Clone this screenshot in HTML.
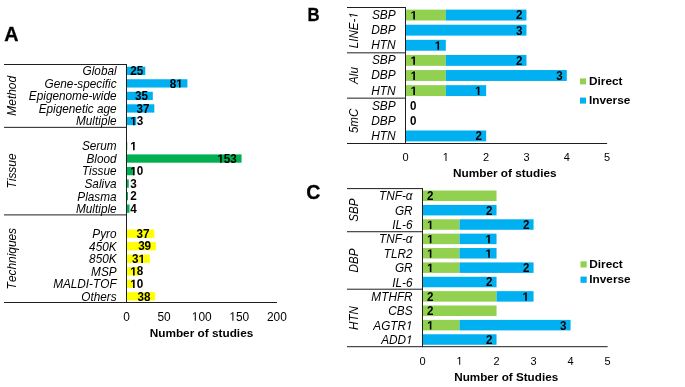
<!DOCTYPE html>
<html><head><meta charset="utf-8"><style>
html,body{margin:0;padding:0;background:#fff;}
svg{display:block;font-family:"Liberation Sans", sans-serif;will-change:transform;}
text{fill:#000;font-kerning:none;}
path{fill:#000;}
</style></head><body>
<svg width="685" height="387" viewBox="0 0 685 387">
<text x="4.30" y="41.50" font-size="19.8" text-anchor="start" font-weight="bold" font-style="normal" transform="translate(4.30 41.50) scale(1 1.04) translate(-4.30 -41.50)" stroke="#000" stroke-width="0.3">A</text>
<rect x="126.50" y="66.71" width="18.80" height="8.30" fill="#00b0f0"/>
<text x="116.60" y="75.26" font-size="11.8" text-anchor="end" font-weight="normal" font-style="italic" transform="translate(116.60 75.26) scale(1 1.04) translate(-116.60 -75.26)">Global</text>
<text x="130.30" y="75.06" font-size="11.7" text-anchor="start" font-weight="bold" font-style="normal" transform="translate(130.30 75.06) scale(1 1.02) translate(-130.30 -75.06)">25</text>
<rect x="126.50" y="79.24" width="60.91" height="8.30" fill="#00b0f0"/>
<text x="116.60" y="87.79" font-size="11.8" text-anchor="end" font-weight="normal" font-style="italic" transform="translate(116.60 87.79) scale(1 1.04) translate(-116.60 -87.79)">Gene-specific</text>
<text id="t0" x="182.71" y="87.59" font-size="11.7" text-anchor="end" font-weight="bold" font-style="normal" transform="translate(182.71 87.59) scale(1 1.02) translate(-182.71 -87.59)">8 </text>
<rect x="126.50" y="91.77" width="26.32" height="8.30" fill="#00b0f0"/>
<text x="116.60" y="100.32" font-size="11.8" text-anchor="end" font-weight="normal" font-style="italic" transform="translate(116.60 100.32) scale(1 1.04) translate(-116.60 -100.32)">Epigenome-wide</text>
<text x="148.12" y="100.12" font-size="11.7" text-anchor="end" font-weight="bold" font-style="normal" transform="translate(148.12 100.12) scale(1 1.02) translate(-148.12 -100.12)">35</text>
<rect x="126.50" y="104.29" width="27.82" height="8.30" fill="#00b0f0"/>
<text x="116.60" y="112.84" font-size="11.8" text-anchor="end" font-weight="normal" font-style="italic" transform="translate(116.60 112.84) scale(1 1.04) translate(-116.60 -112.84)">Epigenetic age</text>
<text x="149.62" y="112.64" font-size="11.7" text-anchor="end" font-weight="bold" font-style="normal" transform="translate(149.62 112.64) scale(1 1.02) translate(-149.62 -112.64)">37</text>
<rect x="126.50" y="116.82" width="9.78" height="8.30" fill="#00b0f0"/>
<text x="116.60" y="125.37" font-size="11.8" text-anchor="end" font-weight="normal" font-style="italic" transform="translate(116.60 125.37) scale(1 1.04) translate(-116.60 -125.37)">Multiple</text>
<text id="t1" x="130.30" y="125.17" font-size="11.7" text-anchor="start" font-weight="bold" font-style="normal" transform="translate(130.30 125.17) scale(1 1.02) translate(-130.30 -125.17)"> 3</text>
<rect x="126.50" y="141.87" width="0.75" height="8.30" fill="#00b050"/>
<text x="116.60" y="150.42" font-size="11.8" text-anchor="end" font-weight="normal" font-style="italic" transform="translate(116.60 150.42) scale(1 1.04) translate(-116.60 -150.42)">Serum</text>
<text id="t2" x="130.30" y="150.22" font-size="11.7" text-anchor="start" font-weight="bold" font-style="normal" transform="translate(130.30 150.22) scale(1 1.02) translate(-130.30 -150.22)"> </text>
<rect x="126.50" y="154.40" width="115.06" height="8.30" fill="#00b050"/>
<text x="116.60" y="162.95" font-size="11.8" text-anchor="end" font-weight="normal" font-style="italic" transform="translate(116.60 162.95) scale(1 1.04) translate(-116.60 -162.95)">Blood</text>
<text id="t3" x="236.86" y="162.75" font-size="11.7" text-anchor="end" font-weight="bold" font-style="normal" transform="translate(236.86 162.75) scale(1 1.02) translate(-236.86 -162.75)"> 53</text>
<rect x="126.50" y="166.92" width="7.52" height="8.30" fill="#00b050"/>
<text x="116.60" y="175.47" font-size="11.8" text-anchor="end" font-weight="normal" font-style="italic" transform="translate(116.60 175.47) scale(1 1.04) translate(-116.60 -175.47)">Tissue</text>
<text id="t4" x="130.30" y="175.27" font-size="11.7" text-anchor="start" font-weight="bold" font-style="normal" transform="translate(130.30 175.27) scale(1 1.02) translate(-130.30 -175.27)"> 0</text>
<rect x="126.50" y="179.45" width="2.26" height="8.30" fill="#00b050"/>
<text x="116.60" y="188.00" font-size="11.8" text-anchor="end" font-weight="normal" font-style="italic" transform="translate(116.60 188.00) scale(1 1.04) translate(-116.60 -188.00)">Saliva</text>
<text x="130.30" y="187.80" font-size="11.7" text-anchor="start" font-weight="bold" font-style="normal" transform="translate(130.30 187.80) scale(1 1.02) translate(-130.30 -187.80)">3</text>
<rect x="126.50" y="191.98" width="1.50" height="8.30" fill="#00b050"/>
<text x="116.60" y="200.53" font-size="11.8" text-anchor="end" font-weight="normal" font-style="italic" transform="translate(116.60 200.53) scale(1 1.04) translate(-116.60 -200.53)">Plasma</text>
<text x="130.30" y="200.33" font-size="11.7" text-anchor="start" font-weight="bold" font-style="normal" transform="translate(130.30 200.33) scale(1 1.02) translate(-130.30 -200.33)">2</text>
<rect x="126.50" y="204.50" width="3.01" height="8.30" fill="#00b050"/>
<text x="116.60" y="213.05" font-size="11.8" text-anchor="end" font-weight="normal" font-style="italic" transform="translate(116.60 213.05) scale(1 1.04) translate(-116.60 -213.05)">Multiple</text>
<text x="130.30" y="212.85" font-size="11.7" text-anchor="start" font-weight="bold" font-style="normal" transform="translate(130.30 212.85) scale(1 1.02) translate(-130.30 -212.85)">4</text>
<rect x="126.50" y="229.56" width="27.82" height="8.30" fill="#ffff00"/>
<text x="116.60" y="238.11" font-size="11.8" text-anchor="end" font-weight="normal" font-style="italic" transform="translate(116.60 238.11) scale(1 1.04) translate(-116.60 -238.11)">Pyro</text>
<text x="149.62" y="237.91" font-size="11.7" text-anchor="end" font-weight="bold" font-style="normal" transform="translate(149.62 237.91) scale(1 1.02) translate(-149.62 -237.91)">37</text>
<rect x="126.50" y="242.08" width="29.33" height="8.30" fill="#ffff00"/>
<text x="116.60" y="250.63" font-size="11.8" text-anchor="end" font-weight="normal" font-style="italic" transform="translate(116.60 250.63) scale(1 1.04) translate(-116.60 -250.63)">450K</text>
<text x="151.13" y="250.43" font-size="11.7" text-anchor="end" font-weight="bold" font-style="normal" transform="translate(151.13 250.43) scale(1 1.02) translate(-151.13 -250.43)">39</text>
<rect x="126.50" y="254.61" width="23.31" height="8.30" fill="#ffff00"/>
<text x="116.60" y="263.16" font-size="11.8" text-anchor="end" font-weight="normal" font-style="italic" transform="translate(116.60 263.16) scale(1 1.04) translate(-116.60 -263.16)">850K</text>
<text id="t5" x="145.11" y="262.96" font-size="11.7" text-anchor="end" font-weight="bold" font-style="normal" transform="translate(145.11 262.96) scale(1 1.02) translate(-145.11 -262.96)">3 </text>
<rect x="126.50" y="267.13" width="13.54" height="8.30" fill="#ffff00"/>
<text x="116.60" y="275.68" font-size="11.8" text-anchor="end" font-weight="normal" font-style="italic" transform="translate(116.60 275.68) scale(1 1.04) translate(-116.60 -275.68)">MSP</text>
<text id="t6" x="130.30" y="275.48" font-size="11.7" text-anchor="start" font-weight="bold" font-style="normal" transform="translate(130.30 275.48) scale(1 1.02) translate(-130.30 -275.48)"> 8</text>
<rect x="126.50" y="279.66" width="7.52" height="8.30" fill="#ffff00"/>
<text x="116.60" y="288.21" font-size="11.8" text-anchor="end" font-weight="normal" font-style="italic" transform="translate(116.60 288.21) scale(1 1.04) translate(-116.60 -288.21)">MALDI-TOF</text>
<text id="t7" x="130.30" y="288.01" font-size="11.7" text-anchor="start" font-weight="bold" font-style="normal" transform="translate(130.30 288.01) scale(1 1.02) translate(-130.30 -288.01)"> 0</text>
<rect x="126.50" y="292.19" width="28.58" height="8.30" fill="#ffff00"/>
<text x="116.60" y="300.74" font-size="11.8" text-anchor="end" font-weight="normal" font-style="italic" transform="translate(116.60 300.74) scale(1 1.04) translate(-116.60 -300.74)">Others</text>
<text x="150.38" y="300.54" font-size="11.7" text-anchor="end" font-weight="bold" font-style="normal" transform="translate(150.38 300.54) scale(1 1.02) translate(-150.38 -300.54)">38</text>
<text x="16.20" y="95.82" font-size="11.9" text-anchor="middle" font-weight="normal" font-style="italic" transform="rotate(-90 16.20 95.82) translate(16.20 95.82) scale(1 1.04) translate(-16.20 -95.82)">Method</text>
<text x="16.20" y="170.97" font-size="11.9" text-anchor="middle" font-weight="normal" font-style="italic" transform="rotate(-90 16.20 170.97) translate(16.20 170.97) scale(1 1.04) translate(-16.20 -170.97)">Tissue</text>
<text x="16.20" y="258.66" font-size="11.9" text-anchor="middle" font-weight="normal" font-style="italic" transform="rotate(-90 16.20 258.66) translate(16.20 258.66) scale(1 1.04) translate(-16.20 -258.66)">Techniques</text>
<line x1="4.00" y1="64.50" x2="126.50" y2="64.50" stroke="#1e1e1e" stroke-width="1.0"/>
<line x1="4.00" y1="127.35" x2="126.50" y2="127.35" stroke="#1e1e1e" stroke-width="1.0"/>
<line x1="4.00" y1="214.90" x2="126.50" y2="214.90" stroke="#1e1e1e" stroke-width="1.0"/>
<line x1="4.00" y1="302.50" x2="277.00" y2="302.50" stroke="#1e1e1e" stroke-width="1.0"/>
<line x1="126.50" y1="64.00" x2="126.50" y2="303.00" stroke="#1e1e1e" stroke-width="1.0"/>
<text x="126.50" y="320.80" font-size="11.9" text-anchor="middle" font-weight="normal" font-style="normal" transform="translate(126.50 320.80) scale(1 1.04) translate(-126.50 -320.80)">0</text>
<text x="164.10" y="320.80" font-size="11.9" text-anchor="middle" font-weight="normal" font-style="normal" transform="translate(164.10 320.80) scale(1 1.04) translate(-164.10 -320.80)">50</text>
<text id="t8" x="201.70" y="320.80" font-size="11.9" text-anchor="middle" font-weight="normal" font-style="normal" transform="translate(201.70 320.80) scale(1 1.04) translate(-201.70 -320.80)"> 00</text>
<text id="t9" x="239.30" y="320.80" font-size="11.9" text-anchor="middle" font-weight="normal" font-style="normal" transform="translate(239.30 320.80) scale(1 1.04) translate(-239.30 -320.80)"> 50</text>
<text x="276.90" y="320.80" font-size="11.9" text-anchor="middle" font-weight="normal" font-style="normal" transform="translate(276.90 320.80) scale(1 1.04) translate(-276.90 -320.80)">200</text>
<text x="201.50" y="337.00" font-size="11.8" text-anchor="middle" font-weight="bold" font-style="normal">Number of studies</text>
<g transform="translate(307.5 0) scale(0.93 1)">
<text x="0.00" y="21.00" font-size="18" text-anchor="start" font-weight="bold" font-style="normal" transform="translate(0.00 21.00) scale(1 1.04) translate(0.00 -21.00)" stroke="#000" stroke-width="0.3">B</text>
</g>
<rect x="405.50" y="9.61" width="40.32" height="10.90" fill="#92d050"/>
<text id="t10" x="410.60" y="19.46" font-size="11.6" text-anchor="start" font-weight="bold" font-style="normal" transform="translate(410.60 19.46) scale(1 1.04) translate(-410.60 -19.46)"> </text>
<rect x="445.82" y="9.61" width="80.64" height="10.90" fill="#00b0f0"/>
<text x="522.36" y="19.46" font-size="11.6" text-anchor="end" font-weight="bold" font-style="normal" transform="translate(522.36 19.46) scale(1 1.04) translate(-522.36 -19.46)">2</text>
<text x="395.70" y="19.06" font-size="11.9" text-anchor="end" font-weight="normal" font-style="italic" transform="translate(395.70 19.06) scale(1 1.04) translate(-395.70 -19.06)">SBP</text>
<rect x="405.50" y="24.72" width="120.96" height="10.90" fill="#00b0f0"/>
<text x="522.36" y="34.57" font-size="11.6" text-anchor="end" font-weight="bold" font-style="normal" transform="translate(522.36 34.57) scale(1 1.04) translate(-522.36 -34.57)">3</text>
<text x="395.70" y="34.17" font-size="11.9" text-anchor="end" font-weight="normal" font-style="italic" transform="translate(395.70 34.17) scale(1 1.04) translate(-395.70 -34.17)">DBP</text>
<rect x="405.50" y="39.83" width="40.32" height="10.90" fill="#00b0f0"/>
<text id="t11" x="441.22" y="49.68" font-size="11.6" text-anchor="end" font-weight="bold" font-style="normal" transform="translate(441.22 49.68) scale(1 1.04) translate(-441.22 -49.68)"> </text>
<text x="395.70" y="49.28" font-size="11.9" text-anchor="end" font-weight="normal" font-style="italic" transform="translate(395.70 49.28) scale(1 1.04) translate(-395.70 -49.28)">HTN</text>
<rect x="405.50" y="54.94" width="40.32" height="10.90" fill="#92d050"/>
<text id="t12" x="410.60" y="64.79" font-size="11.6" text-anchor="start" font-weight="bold" font-style="normal" transform="translate(410.60 64.79) scale(1 1.04) translate(-410.60 -64.79)"> </text>
<rect x="445.82" y="54.94" width="80.64" height="10.90" fill="#00b0f0"/>
<text x="522.36" y="64.79" font-size="11.6" text-anchor="end" font-weight="bold" font-style="normal" transform="translate(522.36 64.79) scale(1 1.04) translate(-522.36 -64.79)">2</text>
<text x="395.70" y="64.39" font-size="11.9" text-anchor="end" font-weight="normal" font-style="italic" transform="translate(395.70 64.39) scale(1 1.04) translate(-395.70 -64.39)">SBP</text>
<rect x="405.50" y="70.05" width="40.32" height="10.90" fill="#92d050"/>
<text id="t13" x="410.60" y="79.90" font-size="11.6" text-anchor="start" font-weight="bold" font-style="normal" transform="translate(410.60 79.90) scale(1 1.04) translate(-410.60 -79.90)"> </text>
<rect x="445.82" y="70.05" width="120.96" height="10.90" fill="#00b0f0"/>
<text x="562.68" y="79.90" font-size="11.6" text-anchor="end" font-weight="bold" font-style="normal" transform="translate(562.68 79.90) scale(1 1.04) translate(-562.68 -79.90)">3</text>
<text x="395.70" y="79.50" font-size="11.9" text-anchor="end" font-weight="normal" font-style="italic" transform="translate(395.70 79.50) scale(1 1.04) translate(-395.70 -79.50)">DBP</text>
<rect x="405.50" y="85.16" width="40.32" height="10.90" fill="#92d050"/>
<text id="t14" x="410.60" y="95.01" font-size="11.6" text-anchor="start" font-weight="bold" font-style="normal" transform="translate(410.60 95.01) scale(1 1.04) translate(-410.60 -95.01)"> </text>
<rect x="445.82" y="85.16" width="40.32" height="10.90" fill="#00b0f0"/>
<text id="t15" x="481.54" y="95.01" font-size="11.6" text-anchor="end" font-weight="bold" font-style="normal" transform="translate(481.54 95.01) scale(1 1.04) translate(-481.54 -95.01)"> </text>
<text x="395.70" y="94.61" font-size="11.9" text-anchor="end" font-weight="normal" font-style="italic" transform="translate(395.70 94.61) scale(1 1.04) translate(-395.70 -94.61)">HTN</text>
<text x="410.10" y="110.12" font-size="11.6" text-anchor="start" font-weight="bold" font-style="normal" transform="translate(410.10 110.12) scale(1 1.04) translate(-410.10 -110.12)">0</text>
<text x="395.70" y="109.72" font-size="11.9" text-anchor="end" font-weight="normal" font-style="italic" transform="translate(395.70 109.72) scale(1 1.04) translate(-395.70 -109.72)">SBP</text>
<text x="410.10" y="125.23" font-size="11.6" text-anchor="start" font-weight="bold" font-style="normal" transform="translate(410.10 125.23) scale(1 1.04) translate(-410.10 -125.23)">0</text>
<text x="395.70" y="124.83" font-size="11.9" text-anchor="end" font-weight="normal" font-style="italic" transform="translate(395.70 124.83) scale(1 1.04) translate(-395.70 -124.83)">DBP</text>
<rect x="405.50" y="130.49" width="80.64" height="10.90" fill="#00b0f0"/>
<text x="482.04" y="140.34" font-size="11.6" text-anchor="end" font-weight="bold" font-style="normal" transform="translate(482.04 140.34) scale(1 1.04) translate(-482.04 -140.34)">2</text>
<text x="395.70" y="139.94" font-size="11.9" text-anchor="end" font-weight="normal" font-style="italic" transform="translate(395.70 139.94) scale(1 1.04) translate(-395.70 -139.94)">HTN</text>
<text id="t16" x="357.60" y="30.17" font-size="11.6" text-anchor="middle" font-weight="normal" font-style="italic" transform="rotate(-90 357.60 30.17) translate(357.60 30.17) scale(1 1.04) translate(-357.60 -30.17)">LINE- </text>
<text x="357.60" y="75.50" font-size="11.6" text-anchor="middle" font-weight="normal" font-style="italic" transform="rotate(-90 357.60 75.50) translate(357.60 75.50) scale(1 1.04) translate(-357.60 -75.50)">Alu</text>
<text x="357.60" y="120.83" font-size="11.6" text-anchor="middle" font-weight="normal" font-style="italic" transform="rotate(-90 357.60 120.83) translate(357.60 120.83) scale(1 1.04) translate(-357.60 -120.83)">5mC</text>
<line x1="347.00" y1="7.50" x2="405.50" y2="7.50" stroke="#1e1e1e" stroke-width="1.0"/>
<line x1="347.00" y1="52.83" x2="405.50" y2="52.83" stroke="#1e1e1e" stroke-width="1.0"/>
<line x1="347.00" y1="98.17" x2="405.50" y2="98.17" stroke="#1e1e1e" stroke-width="1.0"/>
<line x1="347.00" y1="143.50" x2="607.10" y2="143.50" stroke="#1e1e1e" stroke-width="1.0"/>
<line x1="405.50" y1="7.00" x2="405.50" y2="144.00" stroke="#1e1e1e" stroke-width="1.0"/>
<text x="405.50" y="160.90" font-size="11" text-anchor="middle" font-weight="normal" font-style="normal" transform="translate(405.50 160.90) scale(1 1.04) translate(-405.50 -160.90)">0</text>
<text id="t17" x="445.82" y="160.90" font-size="11" text-anchor="middle" font-weight="normal" font-style="normal" transform="translate(445.82 160.90) scale(1 1.04) translate(-445.82 -160.90)"> </text>
<text x="486.14" y="160.90" font-size="11" text-anchor="middle" font-weight="normal" font-style="normal" transform="translate(486.14 160.90) scale(1 1.04) translate(-486.14 -160.90)">2</text>
<text x="526.46" y="160.90" font-size="11" text-anchor="middle" font-weight="normal" font-style="normal" transform="translate(526.46 160.90) scale(1 1.04) translate(-526.46 -160.90)">3</text>
<text x="566.78" y="160.90" font-size="11" text-anchor="middle" font-weight="normal" font-style="normal" transform="translate(566.78 160.90) scale(1 1.04) translate(-566.78 -160.90)">4</text>
<text x="607.10" y="160.90" font-size="11" text-anchor="middle" font-weight="normal" font-style="normal" transform="translate(607.10 160.90) scale(1 1.04) translate(-607.10 -160.90)">5</text>
<text x="504.80" y="177.00" font-size="11.8" text-anchor="middle" font-weight="bold" font-style="normal">Number of studies</text>
<rect x="580.00" y="78.40" width="6.00" height="6.00" fill="#92d050"/>
<text x="589.00" y="84.90" font-size="11.8" text-anchor="start" font-weight="bold" font-style="normal">Direct</text>
<rect x="580.00" y="97.60" width="6.00" height="6.00" fill="#00b0f0"/>
<text x="589.00" y="103.60" font-size="11.8" text-anchor="start" font-weight="bold" font-style="normal">Inverse</text>
<text x="306.20" y="199.00" font-size="19.6" text-anchor="start" font-weight="bold" font-style="normal" transform="translate(306.20 199.00) scale(1 1.04) translate(-306.20 -199.00)" stroke="#000" stroke-width="0.3">C</text>
<rect x="422.50" y="190.54" width="74.04" height="10.50" fill="#92d050"/>
<text x="427.10" y="200.19" font-size="11.6" text-anchor="start" font-weight="bold" font-style="normal" transform="translate(427.10 200.19) scale(1 1.04) translate(-427.10 -200.19)">2</text>
<text x="412.60" y="200.29" font-size="11.8" text-anchor="end" font-weight="normal" font-style="italic" transform="translate(412.60 200.29) scale(1 1.04) translate(-412.60 -200.29)">TNF-α</text>
<rect x="422.50" y="204.91" width="74.04" height="10.50" fill="#00b0f0"/>
<text x="492.44" y="214.56" font-size="11.6" text-anchor="end" font-weight="bold" font-style="normal" transform="translate(492.44 214.56) scale(1 1.04) translate(-492.44 -214.56)">2</text>
<text x="412.60" y="214.66" font-size="11.8" text-anchor="end" font-weight="normal" font-style="italic" transform="translate(412.60 214.66) scale(1 1.04) translate(-412.60 -214.66)">GR</text>
<rect x="422.50" y="219.28" width="37.02" height="10.50" fill="#92d050"/>
<text id="t18" x="427.10" y="228.93" font-size="11.6" text-anchor="start" font-weight="bold" font-style="normal" transform="translate(427.10 228.93) scale(1 1.04) translate(-427.10 -228.93)"> </text>
<rect x="459.52" y="219.28" width="74.04" height="10.50" fill="#00b0f0"/>
<text x="529.46" y="228.93" font-size="11.6" text-anchor="end" font-weight="bold" font-style="normal" transform="translate(529.46 228.93) scale(1 1.04) translate(-529.46 -228.93)">2</text>
<text x="412.60" y="229.03" font-size="11.8" text-anchor="end" font-weight="normal" font-style="italic" transform="translate(412.60 229.03) scale(1 1.04) translate(-412.60 -229.03)">IL-6</text>
<rect x="422.50" y="233.65" width="37.02" height="10.50" fill="#92d050"/>
<text id="t19" x="427.10" y="243.30" font-size="11.6" text-anchor="start" font-weight="bold" font-style="normal" transform="translate(427.10 243.30) scale(1 1.04) translate(-427.10 -243.30)"> </text>
<rect x="459.52" y="233.65" width="37.02" height="10.50" fill="#00b0f0"/>
<text id="t20" x="491.94" y="243.30" font-size="11.6" text-anchor="end" font-weight="bold" font-style="normal" transform="translate(491.94 243.30) scale(1 1.04) translate(-491.94 -243.30)"> </text>
<text x="412.60" y="243.40" font-size="11.8" text-anchor="end" font-weight="normal" font-style="italic" transform="translate(412.60 243.40) scale(1 1.04) translate(-412.60 -243.40)">TNF-α</text>
<rect x="422.50" y="248.03" width="37.02" height="10.50" fill="#92d050"/>
<text id="t21" x="427.10" y="257.68" font-size="11.6" text-anchor="start" font-weight="bold" font-style="normal" transform="translate(427.10 257.68) scale(1 1.04) translate(-427.10 -257.68)"> </text>
<rect x="459.52" y="248.03" width="37.02" height="10.50" fill="#00b0f0"/>
<text id="t22" x="491.94" y="257.68" font-size="11.6" text-anchor="end" font-weight="bold" font-style="normal" transform="translate(491.94 257.68) scale(1 1.04) translate(-491.94 -257.68)"> </text>
<text x="412.60" y="257.78" font-size="11.8" text-anchor="end" font-weight="normal" font-style="italic" transform="translate(412.60 257.78) scale(1 1.04) translate(-412.60 -257.78)">TLR2</text>
<rect x="422.50" y="262.40" width="37.02" height="10.50" fill="#92d050"/>
<text id="t23" x="427.10" y="272.05" font-size="11.6" text-anchor="start" font-weight="bold" font-style="normal" transform="translate(427.10 272.05) scale(1 1.04) translate(-427.10 -272.05)"> </text>
<rect x="459.52" y="262.40" width="74.04" height="10.50" fill="#00b0f0"/>
<text x="529.46" y="272.05" font-size="11.6" text-anchor="end" font-weight="bold" font-style="normal" transform="translate(529.46 272.05) scale(1 1.04) translate(-529.46 -272.05)">2</text>
<text x="412.60" y="272.15" font-size="11.8" text-anchor="end" font-weight="normal" font-style="italic" transform="translate(412.60 272.15) scale(1 1.04) translate(-412.60 -272.15)">GR</text>
<rect x="422.50" y="276.77" width="74.04" height="10.50" fill="#00b0f0"/>
<text x="492.44" y="286.42" font-size="11.6" text-anchor="end" font-weight="bold" font-style="normal" transform="translate(492.44 286.42) scale(1 1.04) translate(-492.44 -286.42)">2</text>
<text x="412.60" y="286.52" font-size="11.8" text-anchor="end" font-weight="normal" font-style="italic" transform="translate(412.60 286.52) scale(1 1.04) translate(-412.60 -286.52)">IL-6</text>
<rect x="422.50" y="291.15" width="74.04" height="10.50" fill="#92d050"/>
<text x="427.10" y="300.80" font-size="11.6" text-anchor="start" font-weight="bold" font-style="normal" transform="translate(427.10 300.80) scale(1 1.04) translate(-427.10 -300.80)">2</text>
<rect x="496.54" y="291.15" width="37.02" height="10.50" fill="#00b0f0"/>
<text id="t24" x="528.96" y="300.80" font-size="11.6" text-anchor="end" font-weight="bold" font-style="normal" transform="translate(528.96 300.80) scale(1 1.04) translate(-528.96 -300.80)"> </text>
<text x="412.60" y="300.90" font-size="11.8" text-anchor="end" font-weight="normal" font-style="italic" transform="translate(412.60 300.90) scale(1 1.04) translate(-412.60 -300.90)">MTHFR</text>
<rect x="422.50" y="305.52" width="74.04" height="10.50" fill="#92d050"/>
<text x="427.10" y="315.17" font-size="11.6" text-anchor="start" font-weight="bold" font-style="normal" transform="translate(427.10 315.17) scale(1 1.04) translate(-427.10 -315.17)">2</text>
<text x="412.60" y="315.27" font-size="11.8" text-anchor="end" font-weight="normal" font-style="italic" transform="translate(412.60 315.27) scale(1 1.04) translate(-412.60 -315.27)">CBS</text>
<rect x="422.50" y="319.89" width="37.02" height="10.50" fill="#92d050"/>
<text id="t25" x="427.10" y="329.54" font-size="11.6" text-anchor="start" font-weight="bold" font-style="normal" transform="translate(427.10 329.54) scale(1 1.04) translate(-427.10 -329.54)"> </text>
<rect x="459.52" y="319.89" width="111.06" height="10.50" fill="#00b0f0"/>
<text x="566.48" y="329.54" font-size="11.6" text-anchor="end" font-weight="bold" font-style="normal" transform="translate(566.48 329.54) scale(1 1.04) translate(-566.48 -329.54)">3</text>
<text id="t26" x="412.60" y="329.64" font-size="11.8" text-anchor="end" font-weight="normal" font-style="italic" transform="translate(412.60 329.64) scale(1 1.04) translate(-412.60 -329.64)">AGTR </text>
<rect x="422.50" y="334.26" width="74.04" height="10.50" fill="#00b0f0"/>
<text x="492.44" y="343.91" font-size="11.6" text-anchor="end" font-weight="bold" font-style="normal" transform="translate(492.44 343.91) scale(1 1.04) translate(-492.44 -343.91)">2</text>
<text id="t27" x="412.60" y="344.01" font-size="11.8" text-anchor="end" font-weight="normal" font-style="italic" transform="translate(412.60 344.01) scale(1 1.04) translate(-412.60 -344.01)">ADD </text>
<text x="357.60" y="210.16" font-size="11.6" text-anchor="middle" font-weight="normal" font-style="italic" transform="rotate(-90 357.60 210.16) translate(357.60 210.16) scale(1 1.04) translate(-357.60 -210.16)">SBP</text>
<text x="357.60" y="260.46" font-size="11.6" text-anchor="middle" font-weight="normal" font-style="italic" transform="rotate(-90 357.60 260.46) translate(357.60 260.46) scale(1 1.04) translate(-357.60 -260.46)">DBP</text>
<text x="357.60" y="317.95" font-size="11.6" text-anchor="middle" font-weight="normal" font-style="italic" transform="rotate(-90 357.60 317.95) translate(357.60 317.95) scale(1 1.04) translate(-357.60 -317.95)">HTN</text>
<line x1="347.00" y1="188.60" x2="422.50" y2="188.60" stroke="#1e1e1e" stroke-width="1.0"/>
<line x1="347.00" y1="231.72" x2="422.50" y2="231.72" stroke="#1e1e1e" stroke-width="1.0"/>
<line x1="347.00" y1="289.21" x2="422.50" y2="289.21" stroke="#1e1e1e" stroke-width="1.0"/>
<line x1="347.00" y1="346.70" x2="607.60" y2="346.70" stroke="#1e1e1e" stroke-width="1.0"/>
<line x1="422.50" y1="188.10" x2="422.50" y2="347.20" stroke="#1e1e1e" stroke-width="1.0"/>
<text x="422.50" y="364.80" font-size="11" text-anchor="middle" font-weight="normal" font-style="normal" transform="translate(422.50 364.80) scale(1 1.04) translate(-422.50 -364.80)">0</text>
<text id="t28" x="459.52" y="364.80" font-size="11" text-anchor="middle" font-weight="normal" font-style="normal" transform="translate(459.52 364.80) scale(1 1.04) translate(-459.52 -364.80)"> </text>
<text x="496.54" y="364.80" font-size="11" text-anchor="middle" font-weight="normal" font-style="normal" transform="translate(496.54 364.80) scale(1 1.04) translate(-496.54 -364.80)">2</text>
<text x="533.56" y="364.80" font-size="11" text-anchor="middle" font-weight="normal" font-style="normal" transform="translate(533.56 364.80) scale(1 1.04) translate(-533.56 -364.80)">3</text>
<text x="570.58" y="364.80" font-size="11" text-anchor="middle" font-weight="normal" font-style="normal" transform="translate(570.58 364.80) scale(1 1.04) translate(-570.58 -364.80)">4</text>
<text x="607.60" y="364.80" font-size="11" text-anchor="middle" font-weight="normal" font-style="normal" transform="translate(607.60 364.80) scale(1 1.04) translate(-607.60 -364.80)">5</text>
<text x="506.20" y="381.00" font-size="11.7" text-anchor="middle" font-weight="bold" font-style="normal">Number of Studies</text>
<rect x="580.50" y="261.30" width="6.20" height="6.20" fill="#92d050"/>
<text x="589.30" y="268.10" font-size="11.8" text-anchor="start" font-weight="bold" font-style="normal">Direct</text>
<rect x="580.50" y="276.60" width="6.20" height="6.20" fill="#00b0f0"/>
<text x="589.30" y="283.20" font-size="11.8" text-anchor="start" font-weight="bold" font-style="normal">Inverse</text>
<path transform="translate(182.71 87.59) scale(1 1.02) translate(-182.71 -87.59) translate(176.197 87.590)" d="M2.731 0.000 L2.731 -6.684 L0.800 -5.479 L0.800 -6.741 L2.816 -8.049 L4.336 -8.049 L4.336 0.000Z"/>
<path transform="translate(130.30 125.17) scale(1 1.02) translate(-130.30 -125.17) translate(130.300 125.170)" d="M2.731 0.000 L2.731 -6.684 L0.800 -5.479 L0.800 -6.741 L2.816 -8.049 L4.336 -8.049 L4.336 0.000Z"/>
<path transform="translate(130.30 150.22) scale(1 1.02) translate(-130.30 -150.22) translate(130.300 150.220)" d="M2.731 0.000 L2.731 -6.684 L0.800 -5.479 L0.800 -6.741 L2.816 -8.049 L4.336 -8.049 L4.336 0.000Z"/>
<path transform="translate(236.86 162.75) scale(1 1.02) translate(-236.86 -162.75) translate(217.368 162.750)" d="M2.731 0.000 L2.731 -6.684 L0.800 -5.479 L0.800 -6.741 L2.816 -8.049 L4.336 -8.049 L4.336 0.000Z"/>
<path transform="translate(130.30 175.27) scale(1 1.02) translate(-130.30 -175.27) translate(130.300 175.270)" d="M2.731 0.000 L2.731 -6.684 L0.800 -5.479 L0.800 -6.741 L2.816 -8.049 L4.336 -8.049 L4.336 0.000Z"/>
<path transform="translate(145.11 262.96) scale(1 1.02) translate(-145.11 -262.96) translate(138.597 262.960)" d="M2.731 0.000 L2.731 -6.684 L0.800 -5.479 L0.800 -6.741 L2.816 -8.049 L4.336 -8.049 L4.336 0.000Z"/>
<path transform="translate(130.30 275.48) scale(1 1.02) translate(-130.30 -275.48) translate(130.300 275.480)" d="M2.731 0.000 L2.731 -6.684 L0.800 -5.479 L0.800 -6.741 L2.816 -8.049 L4.336 -8.049 L4.336 0.000Z"/>
<path transform="translate(130.30 288.01) scale(1 1.02) translate(-130.30 -288.01) translate(130.300 288.010)" d="M2.731 0.000 L2.731 -6.684 L0.800 -5.479 L0.800 -6.741 L2.816 -8.049 L4.336 -8.049 L4.336 0.000Z"/>
<path transform="translate(201.70 320.80) scale(1 1.04) translate(-201.70 -320.80) translate(191.783 320.800)" d="M2.992 0.000 L2.992 -7.188 L1.145 -5.869 L1.145 -6.856 L3.080 -8.187 L4.044 -8.187 L4.044 0.000Z"/>
<path transform="translate(239.30 320.80) scale(1 1.04) translate(-239.30 -320.80) translate(229.383 320.800)" d="M2.992 0.000 L2.992 -7.188 L1.145 -5.869 L1.145 -6.856 L3.080 -8.187 L4.044 -8.187 L4.044 0.000Z"/>
<path transform="translate(410.60 19.46) scale(1 1.04) translate(-410.60 -19.46) translate(410.600 19.460)" d="M2.707 0.000 L2.707 -6.627 L0.793 -5.432 L0.793 -6.684 L2.792 -7.981 L4.299 -7.981 L4.299 0.000Z"/>
<path transform="translate(441.22 49.68) scale(1 1.04) translate(-441.22 -49.68) translate(434.757 49.680)" d="M2.707 0.000 L2.707 -6.627 L0.793 -5.432 L0.793 -6.684 L2.792 -7.981 L4.299 -7.981 L4.299 0.000Z"/>
<path transform="translate(410.60 64.79) scale(1 1.04) translate(-410.60 -64.79) translate(410.600 64.790)" d="M2.707 0.000 L2.707 -6.627 L0.793 -5.432 L0.793 -6.684 L2.792 -7.981 L4.299 -7.981 L4.299 0.000Z"/>
<path transform="translate(410.60 79.90) scale(1 1.04) translate(-410.60 -79.90) translate(410.600 79.900)" d="M2.707 0.000 L2.707 -6.627 L0.793 -5.432 L0.793 -6.684 L2.792 -7.981 L4.299 -7.981 L4.299 0.000Z"/>
<path transform="translate(410.60 95.01) scale(1 1.04) translate(-410.60 -95.01) translate(410.600 95.010)" d="M2.707 0.000 L2.707 -6.627 L0.793 -5.432 L0.793 -6.684 L2.792 -7.981 L4.299 -7.981 L4.299 0.000Z"/>
<path transform="translate(481.54 95.01) scale(1 1.04) translate(-481.54 -95.01) translate(475.077 95.010)" d="M2.707 0.000 L2.707 -6.627 L0.793 -5.432 L0.793 -6.684 L2.792 -7.981 L4.299 -7.981 L4.299 0.000Z"/>
<path transform="rotate(-90 357.60 30.17) translate(357.60 30.17) scale(1 1.04) translate(-357.60 -30.17) translate(369.186 30.170)" d="M2.334 0.000 L3.682 -6.927 L1.637 -5.664 L1.835 -6.684 L3.971 -7.981 L4.911 -7.981 L3.359 0.000Z"/>
<path transform="translate(445.82 160.90) scale(1 1.04) translate(-445.82 -160.90) translate(442.757 160.900)" d="M2.766 0.000 L2.766 -6.644 L1.058 -5.425 L1.058 -6.338 L2.847 -7.568 L3.738 -7.568 L3.738 0.000Z"/>
<path transform="translate(427.10 228.93) scale(1 1.04) translate(-427.10 -228.93) translate(427.100 228.930)" d="M2.707 0.000 L2.707 -6.627 L0.793 -5.432 L0.793 -6.684 L2.792 -7.981 L4.299 -7.981 L4.299 0.000Z"/>
<path transform="translate(427.10 243.30) scale(1 1.04) translate(-427.10 -243.30) translate(427.100 243.300)" d="M2.707 0.000 L2.707 -6.627 L0.793 -5.432 L0.793 -6.684 L2.792 -7.981 L4.299 -7.981 L4.299 0.000Z"/>
<path transform="translate(491.94 243.30) scale(1 1.04) translate(-491.94 -243.30) translate(485.477 243.300)" d="M2.707 0.000 L2.707 -6.627 L0.793 -5.432 L0.793 -6.684 L2.792 -7.981 L4.299 -7.981 L4.299 0.000Z"/>
<path transform="translate(427.10 257.68) scale(1 1.04) translate(-427.10 -257.68) translate(427.100 257.680)" d="M2.707 0.000 L2.707 -6.627 L0.793 -5.432 L0.793 -6.684 L2.792 -7.981 L4.299 -7.981 L4.299 0.000Z"/>
<path transform="translate(491.94 257.68) scale(1 1.04) translate(-491.94 -257.68) translate(485.477 257.680)" d="M2.707 0.000 L2.707 -6.627 L0.793 -5.432 L0.793 -6.684 L2.792 -7.981 L4.299 -7.981 L4.299 0.000Z"/>
<path transform="translate(427.10 272.05) scale(1 1.04) translate(-427.10 -272.05) translate(427.100 272.050)" d="M2.707 0.000 L2.707 -6.627 L0.793 -5.432 L0.793 -6.684 L2.792 -7.981 L4.299 -7.981 L4.299 0.000Z"/>
<path transform="translate(528.96 300.80) scale(1 1.04) translate(-528.96 -300.80) translate(522.497 300.800)" d="M2.707 0.000 L2.707 -6.627 L0.793 -5.432 L0.793 -6.684 L2.792 -7.981 L4.299 -7.981 L4.299 0.000Z"/>
<path transform="translate(427.10 329.54) scale(1 1.04) translate(-427.10 -329.54) translate(427.100 329.540)" d="M2.707 0.000 L2.707 -6.627 L0.793 -5.432 L0.793 -6.684 L2.792 -7.981 L4.299 -7.981 L4.299 0.000Z"/>
<path transform="translate(412.60 329.64) scale(1 1.04) translate(-412.60 -329.64) translate(406.045 329.640)" d="M2.374 0.000 L3.745 -7.047 L1.665 -5.762 L1.867 -6.799 L4.039 -8.118 L4.995 -8.118 L3.417 0.000Z"/>
<path transform="translate(412.60 344.01) scale(1 1.04) translate(-412.60 -344.01) translate(406.030 344.010)" d="M2.374 0.000 L3.745 -7.047 L1.665 -5.762 L1.867 -6.799 L4.039 -8.118 L4.995 -8.118 L3.417 0.000Z"/>
<path transform="translate(459.52 364.80) scale(1 1.04) translate(-459.52 -364.80) translate(456.457 364.800)" d="M2.766 0.000 L2.766 -6.644 L1.058 -5.425 L1.058 -6.338 L2.847 -7.568 L3.738 -7.568 L3.738 0.000Z"/>
</svg>
</body></html>
